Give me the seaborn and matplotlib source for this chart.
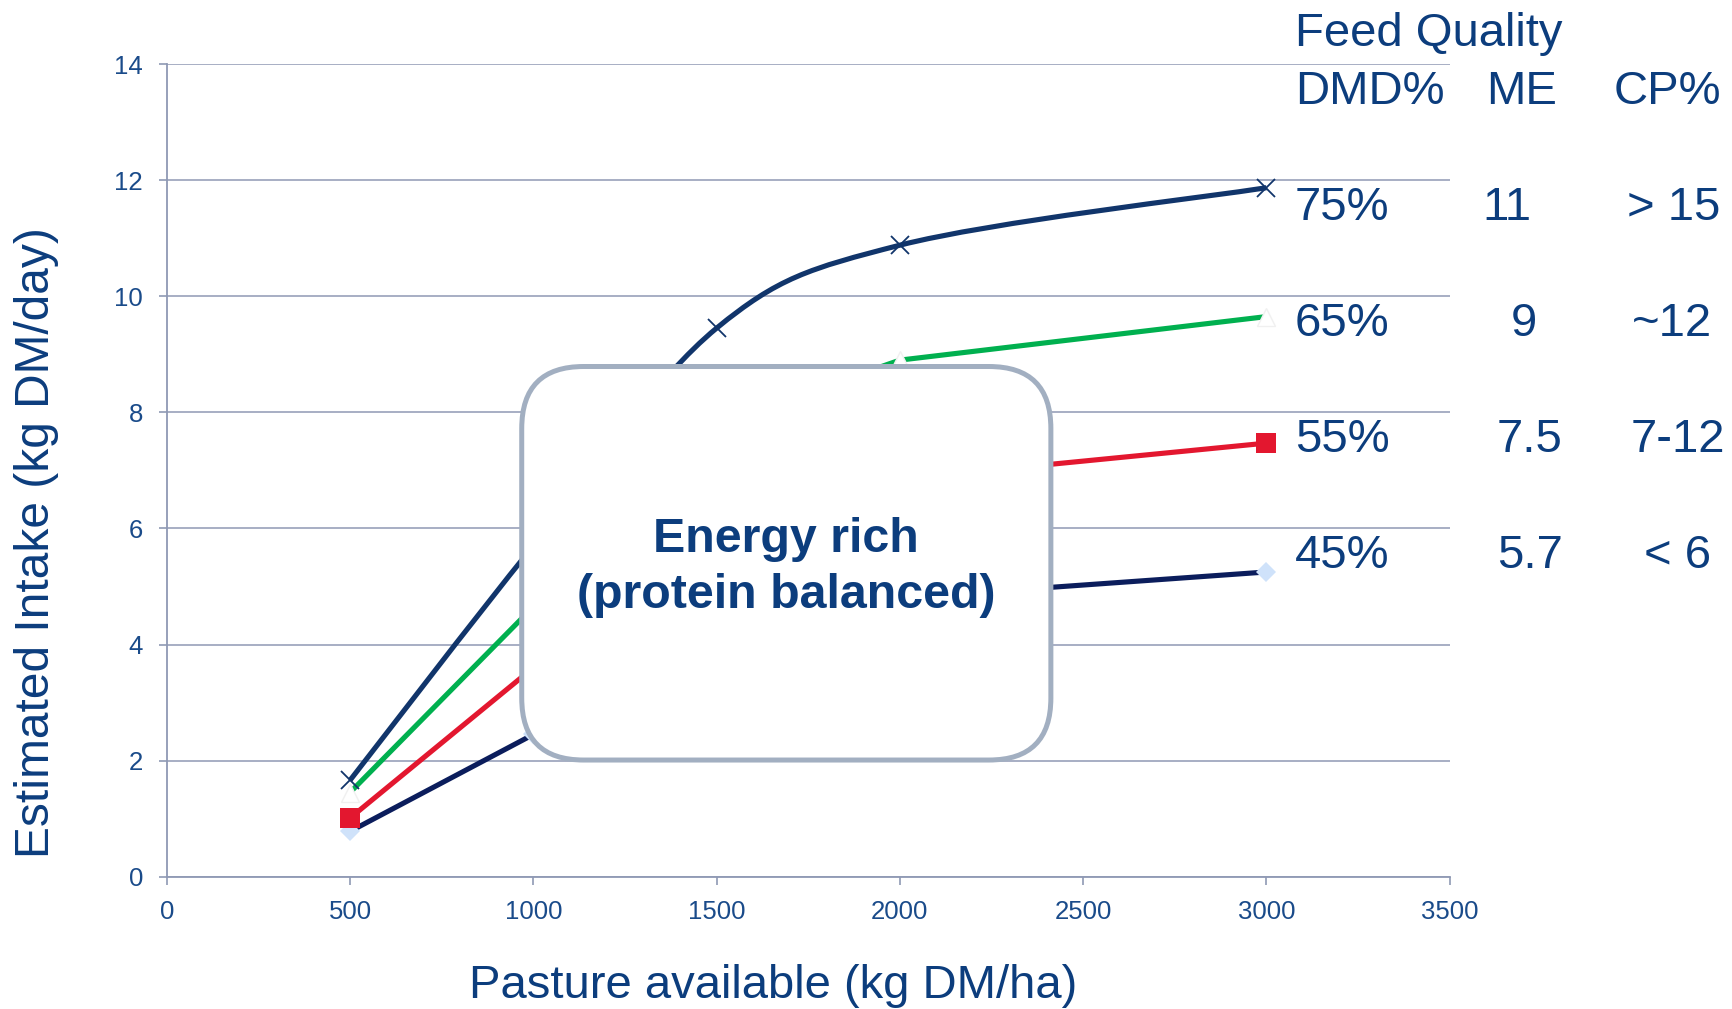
import numpy as np
import pandas as pd
import matplotlib
matplotlib.use("Agg")
import matplotlib.pyplot as plt
from matplotlib.path import Path
from matplotlib.patches import PathPatch, FancyBboxPatch
import seaborn as sns

# Pasture available (kg DM/ha) and estimated intake (kg DM/day) per feed quality
pasture = [500, 1000, 1500, 2000, 3000]
intake_75 = [1.66, 5.70, 9.45, 10.88, 11.87]
intake_65 = [1.45, 4.65, 7.80, 8.90, 9.65]
intake_55 = [1.01, 3.60, 5.60, 6.85, 7.47]
intake_45 = [0.78, 2.45, 3.90, 4.80, 5.25]

# Feed quality table
table_header = ["DMD%", "ME", "CP%"]
dmd_labels = ["75%", "65%", "55%", "45%"]
me_labels = ["11", "9", "7.5", "5.7"]
cp_labels = ["> 15", "~12", "7-12", "< 6"]

x_ticks = [0, 500, 1000, 1500, 2000, 2500, 3000, 3500]
y_ticks = [0, 2, 4, 6, 8, 10, 12, 14]

TEXT = "#0c3d7d"
TICK_TEXT = "#1a4b8a"
AXIS = "#8f99b4"
NAVY = "#11356b"
DARK_NAVY = "#0b1d5c"
GREEN = "#00b04f"
RED = "#e3172f"
DIAMOND = "#cfe2fa"
BOX_EDGE = "#a2afc1"

sns.set_style("white")
plt.rcParams["font.family"] = ["Liberation Sans", "DejaVu Sans"]

W, H = 1733, 1009
fig = plt.figure(figsize=(W / 100, H / 100), dpi=100)
ax = fig.add_axes([166.7 / W, 1 - 876.7 / H, 1283 / W, 812.6 / H])

lw = 3.7


def smooth_path(xs, ys):
    """Cubic Bezier path through the points (Catmull-Rom style tangents)."""
    pts = np.column_stack([xs, ys]).astype(float)
    n = len(pts)
    verts = [pts[0]]
    codes = [Path.MOVETO]
    for i in range(n - 1):
        p0 = pts[i - 1] if i > 0 else pts[i]
        p1 = pts[i]
        p2 = pts[i + 1]
        p3 = pts[i + 2] if i + 2 < n else pts[i + 1]
        c1 = p1 + (p2 - p0) / 6.0
        c2 = p2 - (p3 - p1) / 6.0
        verts += [c1, c2, p2]
        codes += [Path.CURVE4] * 3
    return Path(verts, codes)


df = pd.DataFrame({
    "pasture": pasture,
    "i75": intake_75,
    "i65": intake_65,
    "i55": intake_55,
    "i45": intake_45,
})

# 45% DMD
sns.lineplot(data=df, x="pasture", y="i45", ax=ax, color=DARK_NAVY, lw=lw,
             marker="D", markersize=10.5, markerfacecolor=DIAMOND,
             markeredgecolor=DIAMOND, markeredgewidth=0, zorder=3)
# 55% DMD
sns.lineplot(data=df, x="pasture", y="i55", ax=ax, color=RED, lw=lw,
             marker="s", markersize=14, markerfacecolor=RED,
             markeredgecolor=RED, markeredgewidth=0, zorder=3)
# 65% DMD
sns.lineplot(data=df, x="pasture", y="i65", ax=ax, color=GREEN, lw=lw,
             marker="^", markersize=13, markerfacecolor="white",
             markeredgecolor="#f0f0f0", markeredgewidth=1.0, zorder=3)
# 75% DMD: smoothed curve plus cross markers
ax.add_patch(PathPatch(smooth_path(df["pasture"], df["i75"]), facecolor="none",
                       edgecolor=NAVY, lw=lw, zorder=3, capstyle="butt"))
sns.lineplot(data=df, x="pasture", y="i75", ax=ax, color=NAVY, lw=0,
             marker="x", markersize=13.5, markeredgecolor=NAVY,
             markeredgewidth=1.3, zorder=4)

# Rounded call-out box
rx = 169.0
ry = 1.068
box = FancyBboxPatch((968.5, 2.01), 2412 - 968.5, 8.79 - 2.01,
                     boxstyle=f"round,pad=0,rounding_size={rx}",
                     mutation_aspect=ry / rx,
                     facecolor="white", edgecolor=BOX_EDGE, lw=3.6, zorder=5)
ax.add_patch(box)
ax.text(1690, 5.33, "Energy rich\n(protein balanced)", ha="center", va="center",
        fontsize=34.8, fontweight="bold", color=TEXT, linespacing=1.33, zorder=6)

# Axes styling
ax.set_xlim(0, 3500)
ax.set_ylim(0, 14)
ax.set_xticks(x_ticks)
ax.set_yticks(y_ticks)
ax.set_xticklabels([str(v) for v in x_ticks])
ax.set_yticklabels([str(v) for v in y_ticks])
ax.yaxis.grid(True, color=AXIS, lw=1.1, zorder=0)
ax.xaxis.grid(False)
ax.set_axisbelow(True)
for side in ["top", "right"]:
    ax.spines[side].set_visible(False)
for side in ["left", "bottom"]:
    ax.spines[side].set_color(AXIS)
    ax.spines[side].set_linewidth(1.3)
ax.tick_params(axis="both", which="major", direction="out", length=6,
               width=1.2, color=AXIS, labelsize=18.5, labelcolor=TICK_TEXT,
               pad=11, left=True, bottom=True)

ax.set_xlabel("Pasture available (kg DM/ha)", fontsize=34, color=TEXT)
ax.set_ylabel("Estimated Intake (kg DM/day)", fontsize=34.5, color=TEXT)
ax.xaxis.set_label_coords(0.473, -0.134)
ax.xaxis.label.set_va("center")
ax.yaxis.set_label_coords(-0.1015, 0.411)
ax.yaxis.label.set_va("center")

# Feed quality table at the right
def fx(px):
    return px / W


def fy(py):
    return 1 - py / H


tkw = dict(fontsize=34, color=TEXT, va="baseline")
fig.text(fx(1295), fy(46.5), "Feed Quality", ha="left", **tkw)
fig.text(fx(1295), fy(104), table_header[0], ha="left", **tkw)
fig.text(fx(1521.5), fy(104), table_header[1], ha="center", **tkw)
fig.text(fx(1667), fy(104), table_header[2], ha="center", **tkw)

row_base = [220, 336, 451.5, 567.5]
me_x = [1506.5, 1524, 1530, 1530]
cp_x = [1674, 1672, 1678, 1678]
for i in range(4):
    fig.text(fx(1295), fy(row_base[i]), dmd_labels[i], ha="left", **tkw)
    fig.text(fx(me_x[i]), fy(row_base[i]), me_labels[i], ha="center", **tkw)
    fig.text(fx(cp_x[i]), fy(row_base[i]), cp_labels[i], ha="center", **tkw)

fig.savefig("out.png", dpi=100, facecolor="white")
